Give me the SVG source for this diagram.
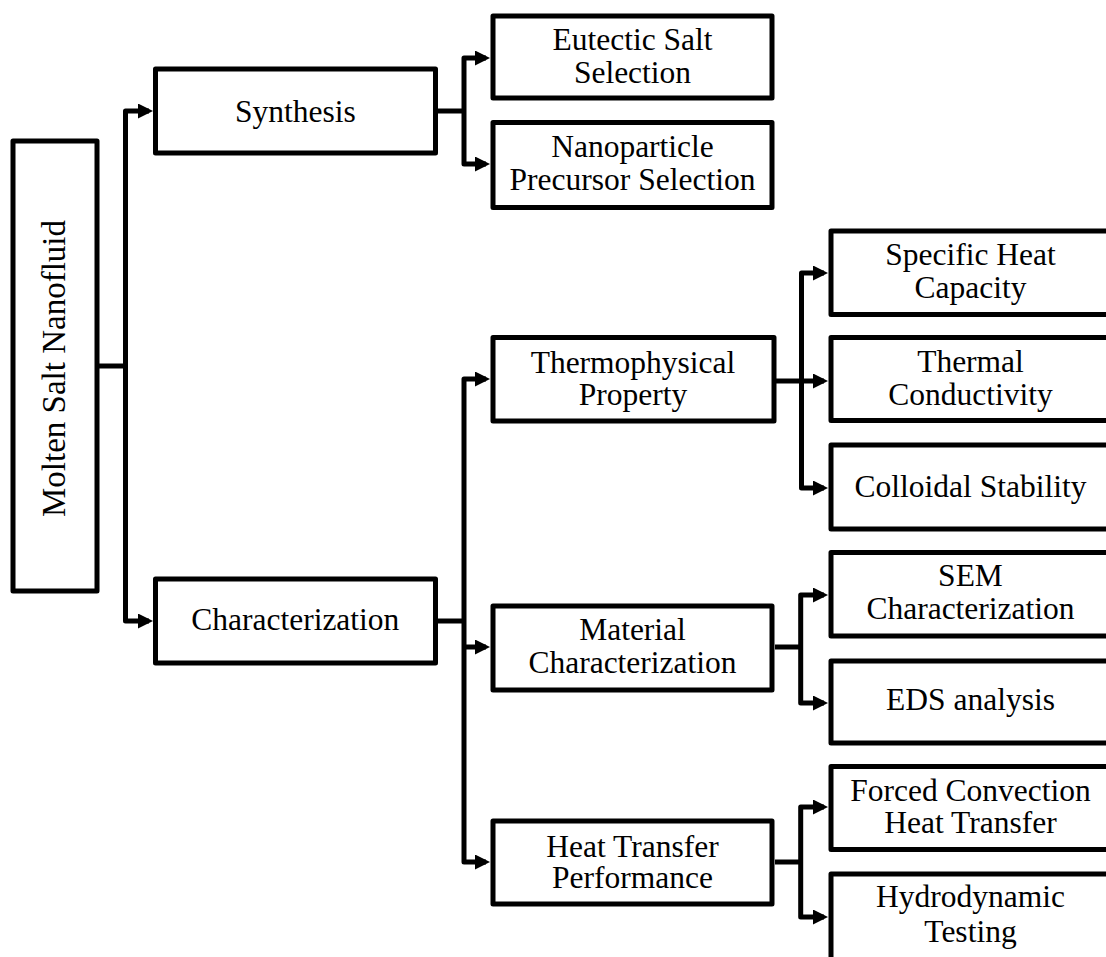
<svg xmlns="http://www.w3.org/2000/svg" width="1106" height="957" viewBox="0 0 1106 957">
<style>
.box{fill:#fff;stroke:#000;stroke-width:5;stroke-linejoin:round}
.t{font-family:"Liberation Serif","Times New Roman",serif;font-size:31.5px;text-anchor:middle;fill:#000}
.c{fill:none;stroke:#000;stroke-width:5;stroke-linejoin:round}
</style>
<defs>
<marker id="arr" viewBox="0 0 15 15" refX="11" refY="7.5" markerWidth="15" markerHeight="15" markerUnits="userSpaceOnUse" orient="auto-start-reverse">
<path d="M0,0 L15,7.5 L0,15 Z" fill="#000"/>
</marker>
</defs>
<rect width="1106" height="957" fill="#fff"/>
<g id="connectors">
<path class="c" d="M99,366 H125.5"/>
<path class="c" d="M149,111 H125.5 V621 H149" marker-start="url(#arr)" marker-end="url(#arr)"/>
<path class="c" d="M437.5,111 H464"/>
<path class="c" d="M486,58 H464 V164 H486" marker-start="url(#arr)" marker-end="url(#arr)"/>
<path class="c" d="M437.5,621 H464"/>
<path class="c" d="M486,379 H464 V862 H486" marker-start="url(#arr)" marker-end="url(#arr)"/>
<path class="c" d="M464,647 H486" marker-end="url(#arr)"/>
<path class="c" d="M776,381 H801.5"/>
<path class="c" d="M824,273 H801.5 V488 H824" marker-start="url(#arr)" marker-end="url(#arr)"/>
<path class="c" d="M801.5,381 H824" marker-end="url(#arr)"/>
<path class="c" d="M775,647 H800.7"/>
<path class="c" d="M824,595 H800.7 V703 H824" marker-start="url(#arr)" marker-end="url(#arr)"/>
<path class="c" d="M775,862 H800.7"/>
<path class="c" d="M824,807 H800.7 V917 H824" marker-start="url(#arr)" marker-end="url(#arr)"/>
</g>
<g id="root">
<rect class="box" x="13" y="141" width="84" height="450"/>
<text class="t" style="font-size:33px" transform="translate(65,368.5) rotate(-90)">Molten Salt Nanofluid</text>
</g>
<g id="synthesis">
<rect class="box" x="155.5" y="69" width="280" height="84"/>
<text class="t" x="295.3" y="122">Synthesis</text>
</g>
<g id="characterization">
<rect class="box" x="155.5" y="579" width="280" height="84"/>
<text class="t" x="295.3" y="630">Characterization</text>
</g>
<g id="eutectic">
<rect class="box" x="493" y="16" width="279" height="82"/>
<text class="t" x="632.5" y="50">Eutectic Salt</text>
<text class="t" x="632.5" y="82.7">Selection</text>
</g>
<g id="nanoparticle">
<rect class="box" x="493" y="122.5" width="279" height="85"/>
<text class="t" x="632.5" y="157">Nanoparticle</text>
<text class="t" x="632.5" y="190">Precursor Selection</text>
</g>
<g id="thermophysical">
<rect class="box" x="493" y="337.5" width="281" height="83.5"/>
<text class="t" x="633" y="373.3">Thermophysical</text>
<text class="t" x="633" y="405">Property</text>
</g>
<g id="material">
<rect class="box" x="493" y="606" width="279" height="84"/>
<text class="t" x="632.5" y="640">Material</text>
<text class="t" x="632.5" y="673.3">Characterization</text>
</g>
<g id="heattransfer">
<rect class="box" x="493" y="821" width="279" height="83"/>
<text class="t" x="632.5" y="856.7">Heat Transfer</text>
<text class="t" x="632.5" y="888.3">Performance</text>
</g>
<g id="specificheat">
<rect class="box" x="831" y="231" width="279" height="83.5"/>
<text class="t" x="970.5" y="265">Specific Heat</text>
<text class="t" x="970.5" y="298.3">Capacity</text>
</g>
<g id="thermal">
<rect class="box" x="831" y="337.5" width="279" height="83"/>
<text class="t" x="970.5" y="371.7">Thermal</text>
<text class="t" x="970.5" y="405">Conductivity</text>
</g>
<g id="colloidal">
<rect class="box" x="831" y="445" width="279" height="84"/>
<text class="t" x="970.5" y="496.7">Colloidal Stability</text>
</g>
<g id="sem">
<rect class="box" x="831" y="552.5" width="279" height="83.5"/>
<text class="t" x="970.5" y="586">SEM</text>
<text class="t" x="970.5" y="619.3">Characterization</text>
</g>
<g id="eds">
<rect class="box" x="831" y="661" width="279" height="82"/>
<text class="t" x="970.5" y="710">EDS analysis</text>
</g>
<g id="forced">
<rect class="box" x="831" y="766.5" width="279" height="83"/>
<text class="t" x="970.5" y="800.7">Forced Convection</text>
<text class="t" x="970.5" y="833.3">Heat Transfer</text>
</g>
<g id="hydrodynamic">
<rect class="box" x="831" y="874" width="279" height="86"/>
<text class="t" x="970.5" y="906.7">Hydrodynamic</text>
<text class="t" x="970.5" y="941.7">Testing</text>
</g>
</svg>
